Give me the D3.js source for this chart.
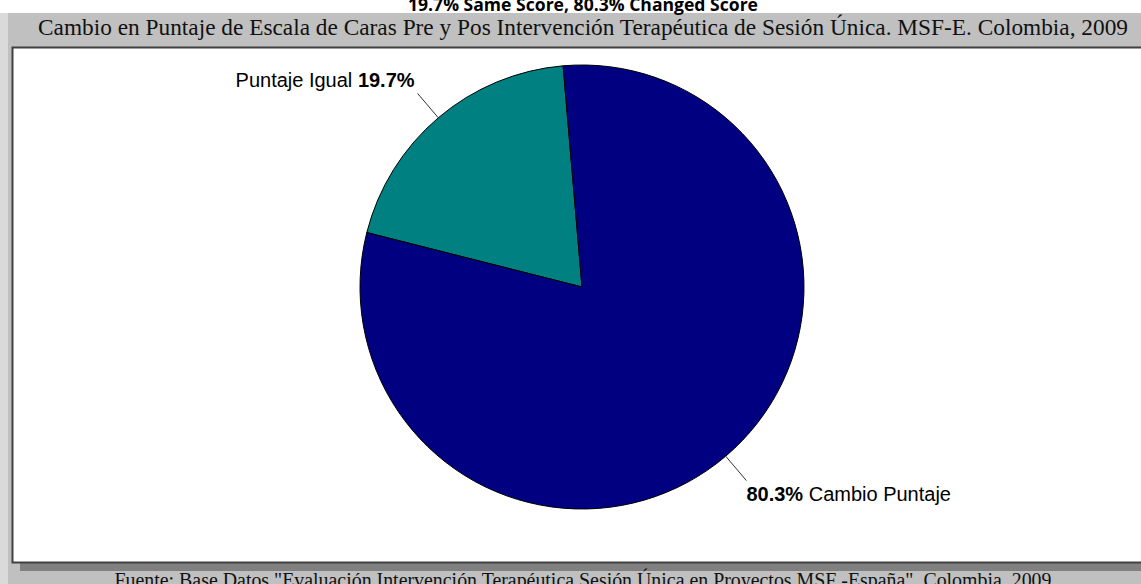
<!DOCTYPE html>
<html><head><meta charset="utf-8">
<script src="https://cdn.jsdelivr.net/npm/d3@7"></script>
<style>html,body{margin:0;padding:0;background:#fff;overflow:hidden}</style>
</head><body>
<svg id="c" width="1141" height="584"></svg>
<script>
const categories = ["Puntaje Igual", "Cambio Puntaje"];
const values = [19.7, 80.3];
const pctLabels = ["19.7%", "80.3%"];
const topNote = "19.7% Same Score, 80.3% Changed Score";
const title = "Cambio en Puntaje de Escala de Caras Pre y Pos Intervención Terapéutica de Sesión Única. MSF-E. Colombia, 2009";
const source = "Fuente: Base Datos \"Evaluación Intervención Terapéutica Sesión Única en Proyectos MSF -España\", Colombia, 2009";

const W = 1141, H = 584;
const svg = d3.select("#c");

// backgrounds
svg.append("rect").attr("x",0).attr("y",0).attr("width",W).attr("height",H).attr("fill","#fff");
svg.append("rect").attr("x",0).attr("y",13).attr("width",8).attr("height",H-13).attr("fill","#dadada");
svg.append("rect").attr("x",8).attr("y",13).attr("width",W-8).attr("height",H-13).attr("fill","#c0c0c0");
// shadow
svg.append("rect").attr("x",20).attr("y",55).attr("width",W).attr("height",516).attr("fill","#808080");
// frame
svg.append("rect").attr("x",12.5).attr("y",47.5).attr("width",W).attr("height",515).attr("fill","#fff").attr("stroke","#404040").attr("stroke-width",2);

svg.append("text").attr("x",583).attr("y",11).attr("text-anchor","middle")
  .attr("font-family","Open Sans, sans-serif").attr("font-weight","bold").attr("font-size",17.5)
  .attr("textLength",350).attr("lengthAdjust","spacingAndGlyphs")
  .attr("fill","#000").text(topNote);
svg.append("text").attr("x",583).attr("y",35).attr("text-anchor","middle")
  .attr("font-family","Liberation Serif, Times New Roman, serif").attr("font-size",23)
  .attr("textLength",1090).attr("lengthAdjust","spacingAndGlyphs")
  .attr("fill","#111").text(title);
svg.append("text").attr("x",583).attr("y",587).attr("text-anchor","middle")
  .attr("font-family","Liberation Serif, Times New Roman, serif").attr("font-size",20)
  .attr("textLength",937).attr("lengthAdjust","spacingAndGlyphs")
  .attr("fill","#111").text(source);

const cx = 582, cy = 287, R = 222;
const deg = Math.PI/180;
const a0 = -75.8*deg;
const pie = d3.pie().sort(null).value(d=>d).startAngle(a0).endAngle(a0+2*Math.PI);
const arcs = pie(values);
const color = d3.scaleOrdinal().domain(categories).range(["#008080","#000080"]);
const arc = d3.arc().innerRadius(0).outerRadius(R);
const g = svg.append("g").attr("transform",`translate(${cx},${cy})`);
g.selectAll("path.s").data(arcs).join("path").attr("class","s")
  .attr("d",arc).attr("fill",(d,i)=>color(categories[i]))
  .attr("stroke","#000").attr("stroke-width",1).attr("stroke-linejoin","round");

const pt = (a,r)=>[r*Math.sin(a), -r*Math.cos(a)];
arcs.forEach((d,i)=>{
  const m = (d.startAngle+d.endAngle)/2;
  const p1 = pt(m,R), p2 = pt(m,R+32);
  g.append("line").attr("x1",p1[0]).attr("y1",p1[1]).attr("x2",p2[0]).attr("y2",p2[1])
    .attr("stroke","#333").attr("stroke-width",1);
  const t = g.append("text").attr("font-family","Liberation Sans, Arial, sans-serif").attr("font-size",20).attr("fill","#000");
  if (p2[0] < 0) {
    t.attr("x",p2[0]-3).attr("y",p2[1]-6).attr("text-anchor","end");
    t.append("tspan").text(categories[i]+" ");
    t.append("tspan").attr("font-weight","bold").text(pctLabels[i]);
  } else {
    t.attr("x",p2[0]).attr("y",p2[1]+20).attr("text-anchor","start");
    t.append("tspan").attr("font-weight","bold").text(pctLabels[i]);
    t.append("tspan").text(" "+categories[i]);
  }
});
</script>
</body></html>
